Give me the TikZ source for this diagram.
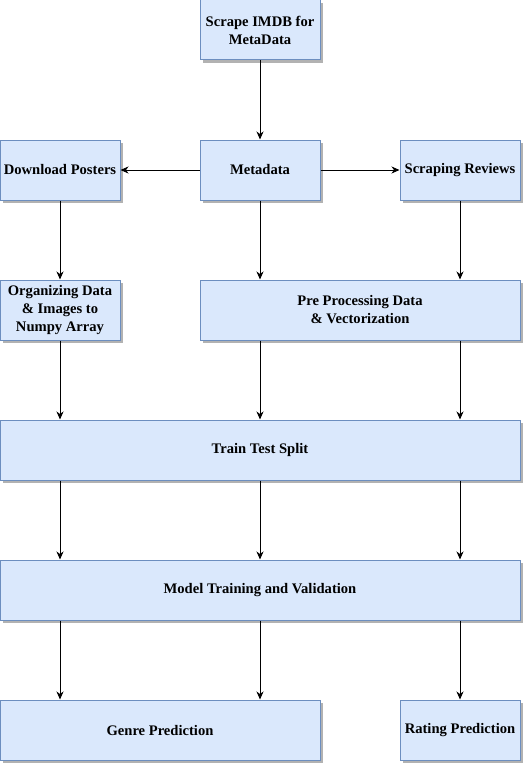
\documentclass[tikz,border=0pt]{standalone}
\usepackage{fontspec}
\setmainfont{Liberation Serif}
\usepackage{tikz}
\usetikzlibrary{arrows.meta, shadows}

\definecolor{boxfill}{HTML}{DAE8FC}
\definecolor{boxline}{HTML}{6C8EBF}

\begin{document}
\begin{tikzpicture}[
    x=1pt, y=-1pt,
    box/.style={rectangle, draw=boxline, fill=boxfill, line width=1pt, minimum width=120pt, minimum height=60pt, inner sep=1pt, align=center, font=\fontsize{14.6}{18}\selectfont\bfseries,
        drop shadow={shadow xshift=3pt, shadow yshift=-3pt, fill=black!30, opacity=1}},
    arrow/.style={-{Stealth[length=8pt, width=7pt, inset=2.5pt]}, line width=1pt}
]
\useasboundingbox (0,0) rectangle (525,765);
% top row
\node[box] (scrape) at (260,30) {Scrape IMDB for\\MetaData};
\node[box] (meta) at (260,170) {Metadata};
\node[box] (posters) at (60,170) {Download Posters};
\node[box] (reviews) at (460,170) {Scraping Reviews};
% preparation
\node[box] (organize) at (60,310) {Organizing Data\\\& Images to\\Numpy Array};
\node[box, minimum width=320pt] (preproc) at (360,310) {Pre Processing Data\\\& Vectorization};
% wide stages
\node[box, minimum width=520pt] (split) at (260,450) {Train Test Split};
\node[box, minimum width=520pt] (train) at (260,590) {Model Training and Validation};
% outputs
\node[box, minimum width=320pt] (genre) at (160,730) {Genre Prediction};
\node[box] (rating) at (460,730) {Rating Prediction};
\draw[arrow] (scrape) -- (meta);
\draw[arrow] (meta) -- (posters);
\draw[arrow] (meta) -- (reviews);
\draw[arrow] (posters) -- (organize);
\draw[arrow] (meta) -- (meta |- preproc.north);
\draw[arrow] (reviews) -- (reviews |- preproc.north);
\draw[arrow] (organize) -- (organize |- split.north);
\draw[arrow] (meta |- preproc.south) -- (meta |- split.north);
\draw[arrow] (reviews |- preproc.south) -- (reviews |- split.north);
\draw[arrow] (organize |- split.south) -- (organize |- train.north);
\draw[arrow] (split) -- (train);
\draw[arrow] (reviews |- split.south) -- (reviews |- train.north);
\draw[arrow] (organize |- train.south) -- (organize |- genre.north);
\draw[arrow] (train) -- (meta |- genre.north);
\draw[arrow] (reviews |- train.south) -- (rating);
\end{tikzpicture}
\end{document}
